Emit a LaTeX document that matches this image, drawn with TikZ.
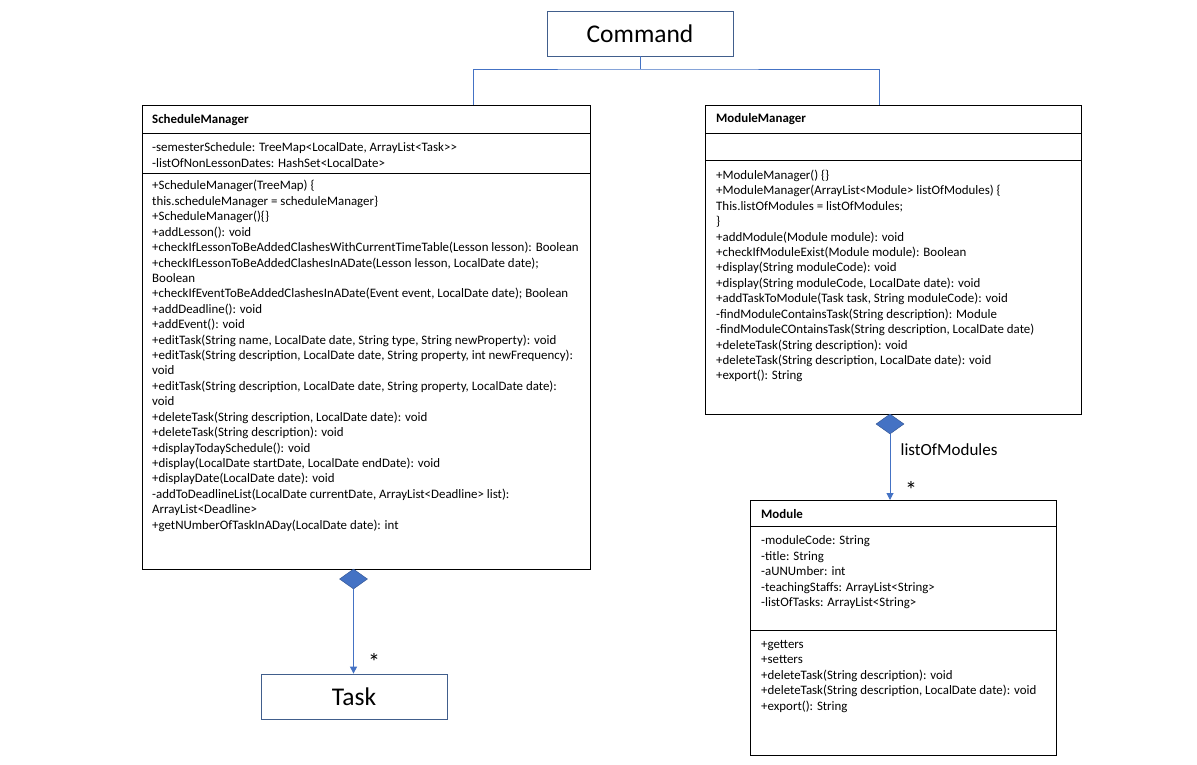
\documentclass[tikz,border=0pt]{standalone}
\usepackage{fontspec}
\setmainfont{Carlito}
\usetikzlibrary{shapes.geometric,arrows.meta}
\definecolor{linkblue}{RGB}{68,114,196}
\definecolor{boxblue}{RGB}{65,94,140}
\definecolor{diadark}{RGB}{47,82,143}
\tikzset{
  cls/.style={draw=black, line width=0.9pt, inner sep=0pt, anchor=north west},
  hdr/.style={font=\fontsize{12.9}{15.4}\selectfont\bfseries, anchor=base west, inner sep=0pt},
  body/.style={font=\fontsize{12.9}{15.42}\selectfont, align=left, anchor=north west, inner sep=0pt, execute at begin node=\strut},
  bigbox/.style={draw=boxblue, line width=0.8pt, font=\fontsize{25.5}{28}\selectfont, inner sep=0pt},
  tree/.style={draw=linkblue, line width=0.8pt},
  agg/.style={shape=diamond, fill=linkblue, draw=diadark, line width=0.4pt, minimum width=28pt, minimum height=20pt, inner sep=0pt},
  assoc/.style={draw=linkblue, line width=1pt, -{Triangle[length=7pt,width=7pt]}},
  lbl/.style={font=\fontsize{17}{20}\selectfont, inner sep=0pt},
  star/.style={font=\fontsize{24}{26}\selectfont, inner sep=0pt},
}
\begin{document}
\begin{tikzpicture}[x=1pt,y=-1pt]
\useasboundingbox (0,0) rectangle (1197,764);
\fill[white] (0,0) rectangle (1197,764);

% Command
\node[bigbox, minimum width=186pt, minimum height=45pt] (cmd) at (640,33.5) {Command};

% ScheduleManager compartments
\node[cls, minimum width=448pt, minimum height=28pt] (sm-h) at (142,105) {};
\node[cls, minimum width=448pt, minimum height=40pt] (sm-a) at (142,133) {};
\node[cls, minimum width=448pt, minimum height=396pt] (sm-m) at (142,173) {};
\node[hdr] (sm-ht) at (152,123.5) {ScheduleManager};
\node[body] (sm-at) at (152,142.8) {-semesterSchedule: TreeMap<LocalDate, ArrayList<Task>{}>\\-listOfNonLessonDates: HashSet<LocalDate>};
\node[body] (sm-mt) at (152,180.3) {+ScheduleManager(TreeMap) \{\\
this.scheduleManager = scheduleManager\}\\
+ScheduleManager()\{\}\\
+addLesson(): void\\
+checkIfLessonToBeAddedClashesWithCurrentTimeTable(Lesson lesson): Boolean\\
+checkIfLessonToBeAddedClashesInADate(Lesson lesson, LocalDate date);\\
Boolean\\
+checkIfEventToBeAddedClashesInADate(Event event, LocalDate date); Boolean\\
+addDeadline(): void\\
+addEvent(): void\\
+editTask(String name, LocalDate date, String type, String newProperty): void\\
+editTask(String description, LocalDate date, String property, int newFrequency):\\
void\\
+editTask(String description, LocalDate date, String property, LocalDate date):\\
void\\
+deleteTask(String description, LocalDate date): void\\
+deleteTask(String description): void\\
+displayTodaySchedule(): void\\
+display(LocalDate startDate, LocalDate endDate): void\\
+displayDate(LocalDate date): void\\
-addToDeadlineList(LocalDate currentDate, ArrayList<Deadline> list):\\
ArrayList<Deadline>\\
+getNUmberOfTaskInADay(LocalDate date): int};

% ModuleManager compartments
\node[cls, minimum width=376pt, minimum height=28pt] (mm-h) at (705,105) {};
\node[cls, minimum width=376pt, minimum height=27pt] (mm-a) at (705,133) {};
\node[cls, minimum width=376pt, minimum height=254pt] (mm-m) at (705,160) {};
\node[hdr] (mm-ht) at (716,122.5) {ModuleManager};
\node[body] (mm-mt) at (716,169.8) {+ModuleManager() \{\}\\
+ModuleManager(ArrayList<Module> listOfModules) \{\\
This.listOfModules = listOfModules;\\
\}\\
+addModule(Module module): void\\
+checkIfModuleExist(Module module): Boolean\\
+display(String moduleCode): void\\
+display(String moduleCode, LocalDate date): void\\
+addTaskToModule(Task task, String moduleCode): void\\
-findModuleContainsTask(String description): Module\\
-findModuleCOntainsTask(String description, LocalDate date)\\
+deleteTask(String description): void\\
+deleteTask(String description, LocalDate date): void\\
+export(): String};

% Module compartments
\node[cls, minimum width=306pt, minimum height=26pt] (mod-h) at (750,500) {};
\node[cls, minimum width=306pt, minimum height=104pt] (mod-a) at (750,526) {};
\node[cls, minimum width=306pt, minimum height=125pt] (mod-m) at (750,630) {};
\node[hdr] (mod-ht) at (761,518.5) {Module};
\node[body] (mod-at) at (761,535.8) {-moduleCode: String\\
-title: String\\
-aUNUmber: int\\
-teachingStaffs: ArrayList<String>\\
-listOfTasks: ArrayList<String>};
\node[body] (mod-mt) at (761,640.1) {+getters\\
+setters\\
+deleteTask(String description): void\\
+deleteTask(String description, LocalDate date): void\\
+export(): String};

% Task
\node[bigbox, minimum width=186pt, minimum height=45pt] (task) at (354,696.5) {Task};

% Generalisation tree from Command
\coordinate (jn) at (640,69);
\coordinate (smtop) at (473,105);
\coordinate (mmtop) at (879,105);
\draw[tree] (cmd.south) -- (jn);
\draw[tree] (smtop) |- (jn) -| (mmtop);

% Aggregations
\node[agg] (smd) at (353.5,579) {};
\draw[assoc] (smd.south) -- (smd.south |- task.north);
\node[star] (smstar) at (374,662) {*};

\node[agg] (mmd) at (890,424) {};
\draw[assoc] (mmd.south) -- (mmd.south |- mod-h.north);
\node[lbl, anchor=west] (mmlbl) at (900.5,450) {listOfModules};
\node[star] (mmstar) at (911,490) {*};
\end{tikzpicture}
\end{document}
